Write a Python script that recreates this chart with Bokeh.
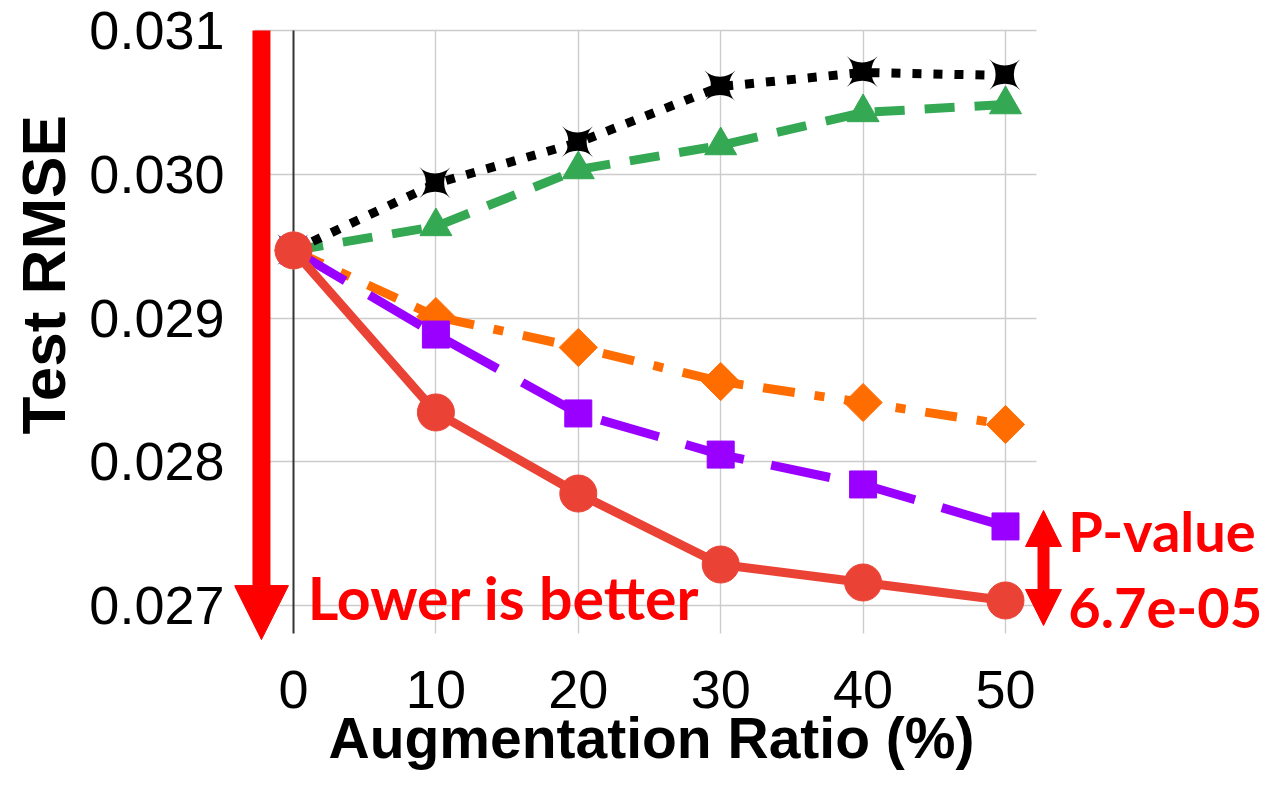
import math
from bokeh.plotting import figure
from bokeh.models import (Range1d, FixedTicker, PrintfTickFormatter, Arrow,
                          NormalHead, Label, ColumnDataSource, Grid, Title)
from bokeh.core.properties import value
from bokeh.embed import file_html
from bokeh.resources import INLINE

# ---- data ----
ratio = [0, 10, 20, 30, 40, 50]
rmse_black = [0.02947, 0.029936, 0.030221, 0.030610, 0.030708, 0.030687]
rmse_green = [0.02947, 0.029637, 0.030033, 0.030200, 0.030430, 0.030485]
rmse_orange = [0.02947, 0.029010, 0.028795, 0.028558, 0.028412, 0.028259]
rmse_purple = [0.02947, 0.028885, 0.028336, 0.028050, 0.027842, 0.027550]
rmse_red = [0.02947, 0.028343, 0.027779, 0.027285, 0.027160, 0.027035]
x_ticks = [0, 10, 20, 30, 40, 50]
y_ticks = [0.027, 0.028, 0.029, 0.030, 0.031]

# extent of the gridded area (data units)
grid_x = (-2.74, 52.18)
grid_y = (0.026805, 0.031)

W, H = 1270, 785
p = figure(width=W, height=H, output_backend="svg", toolbar_location=None,
           x_range=Range1d(-4.143, 68.47), y_range=Range1d(0.0267426, 0.0310696),
           min_border_left=234, min_border_right=2, min_border_top=20,
           min_border_bottom=143)
p.outline_line_color = None
p.background_fill_color = "white"
p.border_fill_color = "white"

# grid
for g in (p.xgrid, p.ygrid):
    g.grid_line_color = "#cccccc"
    g.grid_line_width = 1.4
p.xgrid.ticker = FixedTicker(ticks=x_ticks[1:])
p.ygrid.ticker = FixedTicker(ticks=y_ticks)
try:
    p.xgrid.cross_bounds = grid_y
    p.ygrid.cross_bounds = grid_x
    zero_grid = Grid(dimension=0, ticker=FixedTicker(ticks=x_ticks[:1]),
                     grid_line_color="#333333", grid_line_width=2,
                     cross_bounds=grid_y)
    p.add_layout(zero_grid)
except Exception:
    p.xgrid.visible = False
    p.ygrid.visible = False
    p.segment(x0=x_ticks[1:], y0=grid_y[0], x1=x_ticks[1:], y1=grid_y[1],
              line_color="#cccccc", line_width=1.4)
    p.segment(x0=grid_x[0], y0=y_ticks, x1=grid_x[1], y1=y_ticks,
              line_color="#cccccc", line_width=1.4)
    p.segment(x0=x_ticks[:1], y0=grid_y[0], x1=x_ticks[:1], y1=grid_y[1],
              line_color="#333333", line_width=2)

# axes
for ax in (p.xaxis, p.yaxis):
    ax.axis_line_color = None
    ax.major_tick_line_color = None
    ax.minor_tick_line_color = None
    ax.major_label_text_font = "Liberation Sans"
    ax.major_label_text_font_size = "54px"
    ax.major_label_text_color = "black"
p.xaxis.ticker = FixedTicker(ticks=x_ticks)
p.yaxis.ticker = FixedTicker(ticks=y_ticks)
p.yaxis.formatter = PrintfTickFormatter(format="%.3f")
p.xaxis.major_label_standoff = 22
p.yaxis.major_label_standoff = 4

# axis titles (side titles so they can sit off-centre like the reference)
title_font = dict(text_font="Liberation Sans", text_font_style="bold",
                  text_color="black")
xt = Title(text="Augmentation Ratio (%)", align="left", offset=94,
           vertical_align="top", text_font_size="57px", **title_font)
try:
    xt.standoff = -10
except Exception:
    xt.standoff = 0
p.add_layout(xt, "below")
yt = Title(text="Test RMSE", align="left", offset=208, vertical_align="top",
           standoff=14, text_font_size="62px", **title_font)
p.add_layout(yt, "left")

src = ColumnDataSource(dict(x=ratio, black=rmse_black, green=rmse_green,
                            orange=rmse_orange, purple=rmse_purple, red=rmse_red))

# green
p.line("x", "green", source=src, line_color="#34A853", line_width=9,
       line_dash="30 20")
p.scatter("x", "green", source=src, marker="triangle", size=32,
          fill_color="#34A853", line_color="#34A853")
# black
p.line("x", "black", source=src, line_color="black", line_width=9,
       line_dash="9 12")
p.text("x", "black", source=src, text=value("\u2726"), angle=math.pi / 4,
       text_align="center", text_baseline="middle",
       text_font=value("DejaVu Sans"), text_font_size="58px", text_color="black")
# orange
p.line("x", "orange", source=src, line_color="#FF6D01", line_width=9,
       line_dash="32 20 10 20")
p.scatter("x", "orange", source=src, marker="square", angle=math.pi / 4,
          size=27, fill_color="#FF6D01", line_color="#FF6D01")
# purple
p.line("x", "purple", source=src, line_color="#9900FF", line_width=9,
       line_dash="60 28")
p.scatter("x", "purple", source=src, marker="square", size=27,
          fill_color="#9900FF", line_color="#9900FF")
# red
p.line("x", "red", source=src, line_color="#EA4335", line_width=9)
p.scatter("x", "red", source=src, marker="circle", size=37,
          fill_color="#EA4335", line_color="#EA4335")

# annotations
p.add_layout(Arrow(x_start=-2.25, y_start=0.031, x_end=-2.25, y_end=0.026763,
                   line_color="#FF0000", line_width=18,
                   end=NormalHead(size=54, fill_color="#FF0000",
                                  line_color="#FF0000", line_width=1)))
p.add_layout(Arrow(x_start=52.67, y_start=0.026861, x_end=52.67, y_end=0.027661,
                   line_color="#FF0000", line_width=12,
                   start=NormalHead(size=36, fill_color="#FF0000",
                                    line_color="#FF0000", line_width=1),
                   end=NormalHead(size=36, fill_color="#FF0000",
                                  line_color="#FF0000", line_width=1)))
red_font = dict(text_font="Lato", text_font_style="bold", text_color="#FF0000",
                text_baseline="alphabetic")
p.add_layout(Label(x=1.0, y=0.027056, text="Lower is better",
                   text_font_size="59px", **red_font))
p.add_layout(Label(x=54.4, y=0.027522, text="P-value",
                   text_font_size="56px", **red_font))
p.add_layout(Label(x=54.4, y=0.026986, text="6.7e-05",
                   text_font_size="56px", **red_font))

open("out.html", "w").write(file_html(p, INLINE))
